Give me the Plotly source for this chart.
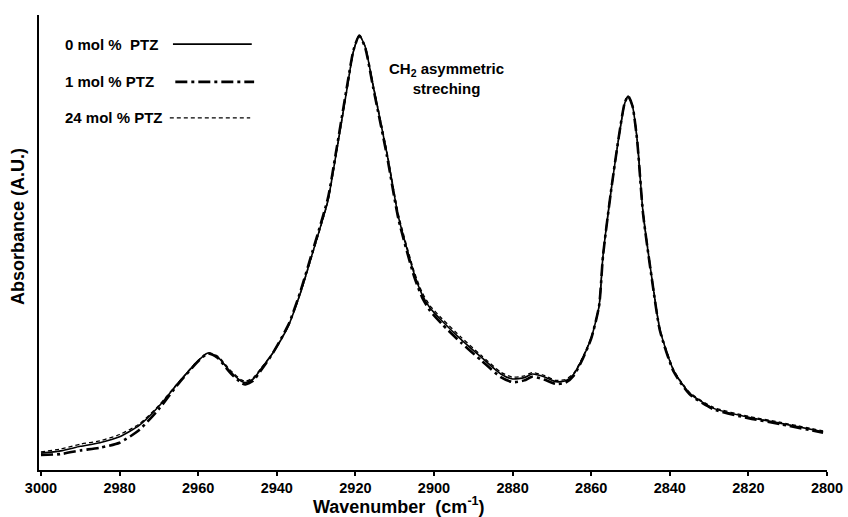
import plotly.graph_objects as go

# ---- data (arbitrary absorbance units) ----
wavenumber = [3000, 2995, 2990, 2985, 2980, 2975, 2970, 2965, 2960, 2957.5, 2955, 2952,
              2949, 2948, 2946, 2944, 2941, 2937, 2934, 2931, 2927, 2925, 2922, 2920.5,
              2919, 2917.5, 2915.5, 2912, 2909, 2905, 2903, 2901, 2898, 2893, 2888, 2883,
              2880, 2877, 2875, 2872, 2869, 2866.5, 2864.5, 2862.5, 2860, 2858, 2857, 2855,
              2853, 2851.5, 2850.6, 2849.5, 2848.3, 2846.8, 2844.5, 2842.5, 2839, 2835,
              2829, 2820, 2812, 2801]

abs_0mol = [0.037, 0.042, 0.052, 0.060, 0.073, 0.098, 0.140, 0.192, 0.240, 0.257, 0.248, 0.218,
            0.195, 0.192, 0.200, 0.222, 0.257, 0.318, 0.389, 0.474, 0.592, 0.690, 0.845, 0.920,
            0.955, 0.930, 0.845, 0.697, 0.555, 0.430, 0.385, 0.356, 0.328, 0.286, 0.248, 0.211,
            0.200, 0.203, 0.211, 0.205, 0.194, 0.196, 0.210, 0.240, 0.290, 0.360, 0.470, 0.610,
            0.730, 0.805, 0.822, 0.800, 0.725, 0.565, 0.418, 0.308, 0.218, 0.169,
            0.136, 0.116, 0.103, 0.084]

abs_1mol = [0.033, 0.035, 0.043, 0.049, 0.060, 0.088, 0.134, 0.190, 0.239, 0.256, 0.246, 0.215,
            0.191, 0.188, 0.196, 0.219, 0.257, 0.320, 0.392, 0.478, 0.597, 0.695, 0.850, 0.922,
            0.955, 0.928, 0.842, 0.692, 0.550, 0.424, 0.379, 0.350, 0.321, 0.279, 0.241, 0.204,
            0.193, 0.197, 0.205, 0.199, 0.189, 0.192, 0.207, 0.238, 0.289, 0.360, 0.470, 0.610,
            0.731, 0.806, 0.822, 0.800, 0.724, 0.563, 0.416, 0.306, 0.216, 0.167,
            0.134, 0.114, 0.101, 0.082]

abs_24mol = [0.040, 0.046, 0.057, 0.064, 0.078, 0.101, 0.142, 0.193, 0.241, 0.258, 0.250, 0.221,
             0.198, 0.195, 0.203, 0.224, 0.258, 0.318, 0.388, 0.472, 0.590, 0.688, 0.843, 0.919,
             0.955, 0.931, 0.848, 0.701, 0.560, 0.435, 0.390, 0.361, 0.333, 0.291, 0.252, 0.215,
             0.204, 0.207, 0.214, 0.208, 0.197, 0.199, 0.212, 0.242, 0.291, 0.360, 0.470, 0.610,
             0.729, 0.804, 0.821, 0.801, 0.727, 0.567, 0.420, 0.310, 0.220, 0.171,
             0.138, 0.118, 0.105, 0.086]

series_names = ["0 mol %  PTZ", "1 mol % PTZ", "24 mol % PTZ"]
x_ticks = [3000, 2980, 2960, 2940, 2920, 2900, 2880, 2860, 2840, 2820, 2800]

FONT = "Liberation Sans, Arial, sans-serif"
styles = [
    dict(color="black", width=1.6, dash="solid"),
    dict(color="black", width=2.6, dash="12px,4px,3px,4px"),
    dict(color="black", width=1.3, dash="4px,3px"),
]

fig = go.Figure()
for name, ys, st in zip(series_names, [abs_0mol, abs_1mol, abs_24mol], styles):
    fig.add_trace(go.Scatter(x=wavenumber, y=ys, mode="lines", name=name,
                             line=dict(shape="spline", smoothing=0.6, **st),
                             showlegend=False, hoverinfo="skip"))

# custom legend (text left, line sample right), as in the original
legend_y = [0.936, 0.853, 0.774]
legend_x0 = [0.170, 0.173, 0.166]
legend_x1 = [0.270, 0.273, 0.268]
annotations = []
shapes = []
for name, ly, x0, x1, st in zip(series_names, legend_y, legend_x0, legend_x1, styles):
    annotations.append(dict(x=0.031, y=ly, xref="paper", yref="paper", text=f"<b>{name}</b>",
                            showarrow=False, xanchor="left", yanchor="middle",
                            font=dict(family=FONT, size=15, color="black")))
    shapes.append(dict(type="line", xref="paper", yref="paper", x0=x0, x1=x1, y0=ly, y1=ly,
                       line=st))

annotations.append(dict(x=0.5165, y=0.8615, xref="paper", yref="paper",
                        text="<b>CH<sub>2</sub> asymmetric<br>streching</b>",
                        showarrow=False, xanchor="center", yanchor="middle", align="center",
                        font=dict(family=FONT, size=15, color="black")))
annotations.append(dict(x=0, xshift=-21, y=0.534, xref="paper", yref="paper",
                        text="<b>Absorbance (A.U.)</b>", textangle=-90,
                        showarrow=False, xanchor="center", yanchor="middle",
                        font=dict(family=FONT, size=18, color="black")))
annotations.append(dict(x=0.457, y=-0.079, xref="paper", yref="paper",
                        text="<b>Wavenumber  (cm<sup>-1</sup>)</b>",
                        showarrow=False, xanchor="center", yanchor="middle",
                        font=dict(family=FONT, size=18, color="black")))

fig.update_layout(
    width=848, height=517, autosize=False,
    margin=dict(l=39, r=21, t=15, b=47, autoexpand=False),
    paper_bgcolor="white", plot_bgcolor="white",
    annotations=annotations, shapes=shapes,
    xaxis=dict(range=[3000.5, 2800], tickvals=x_ticks, ticktext=[str(t) for t in x_ticks],
               automargin=False,
               showgrid=False, zeroline=False, showline=True, linecolor="black", linewidth=2,
               ticks="outside", ticklen=4, tickwidth=1.5, tickcolor="black",
               tickfont=dict(family=FONT, size=14.5, color="black", weight="bold")),
    yaxis=dict(range=[0, 1.0], showgrid=False, zeroline=False, showline=True, automargin=False,
               linecolor="black", linewidth=2, showticklabels=False, ticks=""),
)

fig.write_html("out.html", config={"displayModeBar": False},
               post_script="document.body.style.margin='0';document.body.style.overflow='hidden';")
